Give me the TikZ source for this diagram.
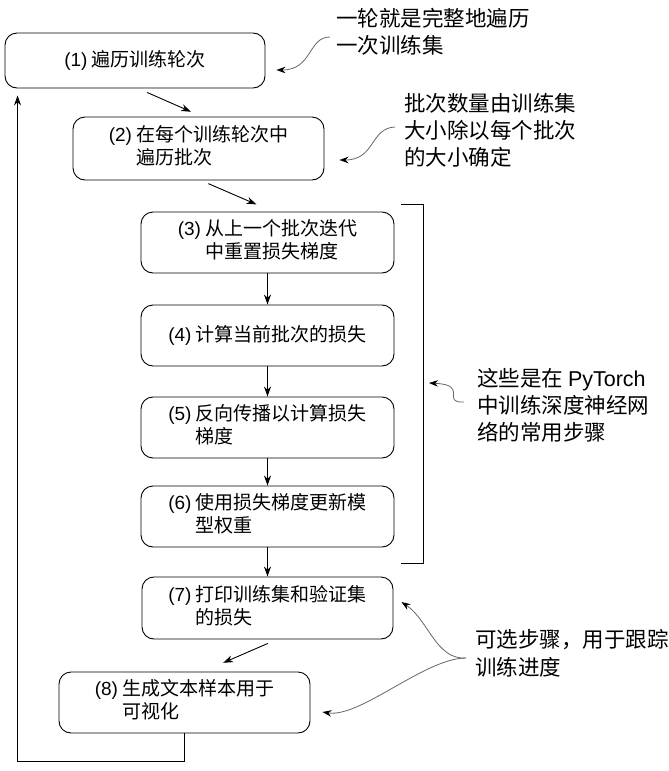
\documentclass[tikz,border=0pt]{standalone}
\usepackage{fontspec}
\setmainfont{Noto Sans CJK SC}
\newfontfamily\latin{Liberation Sans}
\usetikzlibrary{arrows.meta, calc}

\newcommand\steptext[3]{\begin{tabular}{@{}l@{\ }l@{}}{\latin(#1)}&#2\\&#3\end{tabular}}
\newcommand\stepone[2]{{\latin(#1)} #2}

\tikzset{
  stepbox/.style={draw, rounded corners=12pt, line width=0.9pt, minimum width=253pt, minimum height=61pt, inner sep=0pt, font=\fontsize{19}{22}\selectfont},
  flow/.style={line width=0.9pt, -{Stealth[length=10pt,width=7pt]}},
  note/.style={anchor=west, align=left, inner sep=0pt, font=\fontsize{21.5}{27}\selectfont},
  hint/.style={draw=black!60, line width=0.8pt, -{Stealth[length=9pt,width=6.5pt,color=black]}},
}

\begin{document}
\begin{tikzpicture}[x=1pt, y=-1pt]
\useasboundingbox (0,0) rectangle (669,771);
% training steps
\node[stepbox, minimum width=260pt, minimum height=55pt] (s1) at (135,60.5) {\stepone{1}{遍历训练轮次}};
\node[stepbox, minimum width=251pt, minimum height=63pt] (s2) at (198.5,148.5) {\steptext{2}{在每个训练轮次中}{遍历批次}};
\node[stepbox] (s3) at (267.5,242.5) {\steptext{3}{从上一个批次迭代}{中重置损失梯度}};
\node[stepbox] (s4) at (267.5,335.5) {\stepone{4}{计算当前批次的损失}};
\node[stepbox] (s5) at (267.5,427.5) {\steptext{5}{反向传播以计算损失}{梯度}};
\node[stepbox] (s6) at (267.5,516.5) {\steptext{6}{使用损失梯度更新模}{型权重}};
\node[stepbox, minimum width=251pt, minimum height=62pt] (s7) at (267.5,608) {\steptext{7}{打印训练集和验证集}{的损失}};
\node[stepbox, minimum width=251pt] (s8) at (184.5,702.5) {\steptext{8}{生成文本样本用于}{可视化}};

% flow between the steps
\draw[flow, shorten <=10pt, shorten >=12pt] ([xshift=3pt]s1.south) -- ([xshift=3.5pt]s2.north);
\draw[flow, shorten <=8pt, shorten >=18pt] ([xshift=2.5pt]s2.south) -- ([xshift=5.5pt]s3.north);
\foreach \a/\b in {s3/s4, s4/s5, s5/s6, s6/s7}
    \draw[flow] (\a) -- (\b);
\draw[flow, shorten <=10pt, shorten >=22pt] ([xshift=9.5pt]s7.south) -- ([xshift=18.5pt]s8.north);
\draw[flow] (s8.south) -- ++(0,28) -| ([xshift=13pt,yshift=-7pt]s1.south west);

% bracket round steps 3 to 6
\draw[line width=0.9pt] (401,204) -| (423,563) -- (401,563);
\coordinate (brk) at (423,383.5);

% side notes
\node[note] (n1) at (336,31.5) {一轮就是完整地遍历\\一次训练集};
\node[note] (n2) at (404,130) {批次数量由训练集\\大小除以每个批次\\的大小确定};
\node[note] (n3) at (477,405) {这些是在 {\latin PyTorch}\\中训练深度神经网\\络的常用步骤};
\node[note, font=\fontsize{21.5}{28}\selectfont] (n4) at (475,653) {可选步骤，用于跟踪\\训练进度};
\coordinate (h4) at ([xshift=-9pt,yshift=-5pt]n4.west);

\draw[hint] ([xshift=-6pt,yshift=-5.5pt]n1.west) .. controls +(-22,0) and +(36,0) .. ([xshift=11pt,yshift=-9.5pt]s1.east);
\draw[hint] ([xshift=-9pt,yshift=3pt]n2.west) .. controls +(-25,1) and +(36,0) .. ([xshift=15pt,yshift=-11.5pt]s2.east);
\draw[hint] ([xshift=-13pt,yshift=3pt]n3.west) .. controls +(-24,1) and +(41,2) .. ([xshift=6pt,yshift=0.5pt]brk);
\draw[hint] (h4) .. controls +(-30,2) and +(27,18) .. ([xshift=8pt,yshift=6pt]s7.east);
\draw[hint] (h4) .. controls +(-41,0) and +(38,6) .. ([xshift=12pt,yshift=-9.5pt]s8.east);
\end{tikzpicture}
\end{document}
